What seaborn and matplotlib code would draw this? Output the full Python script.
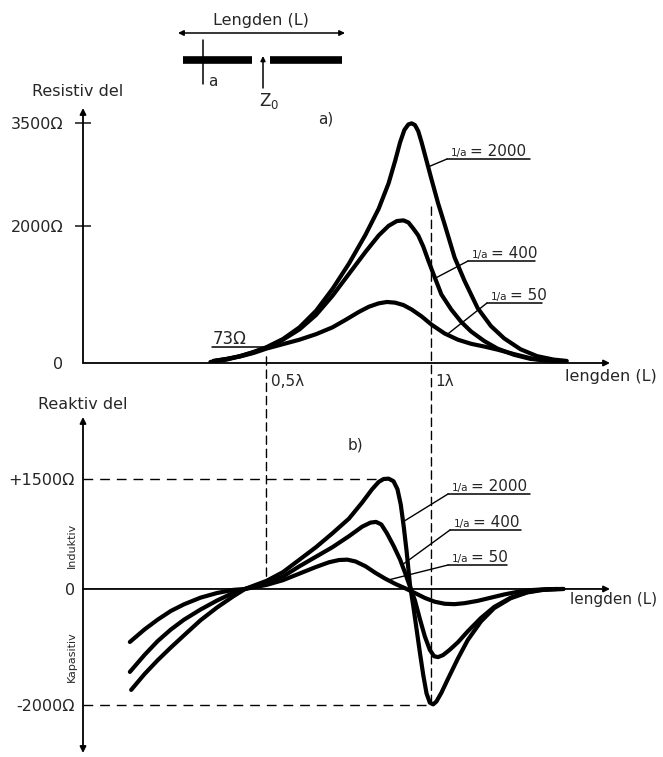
import numpy as np
import pandas as pd
import seaborn as sns
import matplotlib.pyplot as plt
from matplotlib.patches import ConnectionPatch
from matplotlib.transforms import ScaledTranslation

# Resistive part (L in wavelengths, R in ohm)
res_L_2000 = [0.33, 0.38, 0.42, 0.46, 0.50, 0.55, 0.60, 0.65, 0.70, 0.75, 0.80, 0.84,
              0.87, 0.89, 0.905, 0.918, 0.93, 0.94, 0.95, 0.96, 0.97, 0.985, 1.0, 1.02,
              1.04, 1.07, 1.10, 1.14, 1.18, 1.22, 1.27, 1.32, 1.37, 1.41]
res_R_2000 = [15, 50, 100, 160, 230, 350, 520, 760, 1080, 1450, 1870, 2250,
              2620, 2950, 3220, 3400, 3480, 3495, 3470, 3380, 3220, 2950, 2680, 2330,
              2020, 1540, 1200, 800, 540, 360, 200, 100, 50, 30]
res_L_400 = [0.34, 0.38, 0.42, 0.46, 0.50, 0.55, 0.60, 0.65, 0.70, 0.75, 0.80, 0.84,
             0.87, 0.895, 0.915, 0.93, 0.945, 0.96, 0.975, 0.99, 1.005, 1.03, 1.06,
             1.09, 1.12, 1.16, 1.20, 1.25, 1.30, 1.35, 1.39]
res_R_400 = [30, 60, 100, 155, 225, 340, 490, 700, 980, 1300, 1620, 1860,
             2000, 2070, 2080, 2050, 1960, 1860, 1700, 1500, 1310, 1000, 780,
             600, 460, 320, 210, 120, 60, 35, 30]
res_L_50 = [0.34, 0.38, 0.42, 0.46, 0.50, 0.55, 0.60, 0.65, 0.70, 0.74, 0.78, 0.81,
            0.84, 0.865, 0.89, 0.915, 0.94, 0.97, 1.0, 1.04, 1.08, 1.12, 1.16, 1.20,
            1.25, 1.30, 1.34, 1.375]
res_R_50 = [30, 60, 95, 145, 210, 275, 340, 420, 520, 630, 745, 820,
            870, 890, 880, 845, 780, 680, 560, 430, 340, 280, 240, 195,
            130, 70, 40, 30]

# Reactive part (ohm)
rea_L_2000 = [0.09, 0.13, 0.17, 0.21, 0.25, 0.30, 0.35, 0.40, 0.435, 0.47, 0.50, 0.55,
              0.60, 0.65, 0.70, 0.75, 0.79, 0.82, 0.84, 0.855, 0.87, 0.885, 0.897, 0.907,
              0.916, 0.925, 0.935, 0.945, 0.955, 0.965, 0.975, 0.985, 0.995, 1.005, 1.015,
              1.03, 1.05, 1.08, 1.11, 1.15, 1.19, 1.24, 1.29, 1.34, 1.40]
rea_X_2000 = [-1740, -1470, -1230, -1010, -800, -540, -320, -125, 0, 60, 110, 230,
              400, 570, 760, 960, 1180, 1360, 1460, 1500, 1505, 1470, 1360, 1150,
              850, 500, 50, -300, -700, -1100, -1480, -1800, -1960, -1990, -1940,
              -1790, -1550, -1200, -880, -560, -330, -160, -60, -15, 0]
rea_L_400 = [0.086, 0.13, 0.17, 0.21, 0.25, 0.30, 0.35, 0.40, 0.435, 0.47, 0.50, 0.55,
             0.60, 0.65, 0.70, 0.75, 0.79, 0.815, 0.832, 0.848, 0.865, 0.885, 0.905, 0.92,
             0.935, 0.95, 0.965, 0.98, 0.995, 1.008, 1.02, 1.035, 1.055, 1.08, 1.11,
             1.15, 1.19, 1.24, 1.29, 1.33, 1.38]
rea_X_400 = [-1430, -1140, -900, -700, -530, -355, -200, -65, 0, 45, 70, 170,
             310, 440, 570, 720, 850, 905, 915, 880, 760, 590, 400, 220,
             30, -200, -520, -820, -1050, -1160, -1175, -1140, -1050, -920, -730,
             -500, -310, -150, -55, -15, 0]
rea_L_50 = [0.086, 0.13, 0.17, 0.21, 0.25, 0.30, 0.35, 0.40, 0.435, 0.47, 0.50, 0.55,
            0.60, 0.65, 0.69, 0.72, 0.745, 0.77, 0.80, 0.83, 0.86, 0.89, 0.92, 0.95,
            0.98, 1.01, 1.04, 1.07, 1.10, 1.14, 1.18, 1.22, 1.26, 1.30, 1.35, 1.40]
rea_X_50 = [-914, -700, -530, -380, -265, -150, -70, -15, 0, 30, 55, 120,
            210, 300, 365, 395, 400, 375, 310, 220, 140, 70, 10, -70,
            -155, -220, -255, -262, -245, -205, -150, -95, -50, -20, -3, 0]

ratios = ['2000', '400', '50']

res_df = pd.concat([
    pd.DataFrame({'L': res_L_2000, 'R': res_R_2000, 'ratio': '2000'}),
    pd.DataFrame({'L': res_L_400, 'R': res_R_400, 'ratio': '400'}),
    pd.DataFrame({'L': res_L_50, 'R': res_R_50, 'ratio': '50'}),
])
rea_df = pd.concat([
    pd.DataFrame({'L': rea_L_2000, 'X': rea_X_2000, 'ratio': '2000'}),
    pd.DataFrame({'L': rea_L_400, 'X': rea_X_400, 'ratio': '400'}),
    pd.DataFrame({'L': rea_L_50, 'X': rea_X_50, 'ratio': '50'}),
])

sns.set_style('white')
plt.rcParams['font.family'] = ['DejaVu Sans']

W, H = 663, 757
fig = plt.figure(figsize=(W / 100, H / 100), dpi=100)


def box(l, t, r, b):
    return [l / W, 1 - b / H, (r - l) / W, (b - t) / H]


XL = (-0.056, 1.541)
black = {r: 'black' for r in ratios}
line_kw = dict(lw=3, solid_joinstyle='round', solid_capstyle='round')
arrow_kw = dict(arrowstyle='-|>', lw=1.3, color='k', mutation_scale=9, shrinkA=0, shrinkB=0)

# ---- a) resistive part
ax1 = fig.add_axes(box(83, 108, 610, 363))
sns.lineplot(data=res_df, x='L', y='R', hue='ratio', palette=black, estimator=None,
             legend=False, ax=ax1, **line_kw)
ax1.set_xlim(*XL)
ax1.set_ylim(0, 3719)
for s in ax1.spines.values():
    s.set_visible(False)
ax1.set_xlabel('')
ax1.set_ylabel('')
ax1.set_yticks([0, 2000, 3500], ['0', '2000Ω', '3500Ω'])
ax1.tick_params(axis='y', direction='inout', length=12, width=1.2, pad=8, labelsize=11.5, left=True)
ax1.yaxis.get_major_ticks()[0].tick1line.set_visible(False)
ax1.set_xticks([0.5, 1.0], ['0,5λ', '1λ'])
ax1.tick_params(axis='x', length=0, pad=8, labelsize=11)
shift = ScaledTranslation(3 / 72, 0, fig.dpi_scale_trans)
for t in ax1.get_xticklabels():
    t.set_ha('left')
    t.set_transform(t.get_transform() + shift)
ax1.annotate('', xy=(0, 1), xytext=(0, 0), xycoords='axes fraction', arrowprops=arrow_kw)
ax1.annotate('', xy=(1, 0), xytext=(0, 0), xycoords='axes fraction', arrowprops=arrow_kw)

# ---- b) reactive part (hand drawn axis: different scale above / below zero)
K_POS, K_NEG = 0.0733, 0.058


def fwd(y):
    y = np.asarray(y, dtype=float)
    return np.where(y >= 0, y * K_POS, y * K_NEG)


def inv(v):
    v = np.asarray(v, dtype=float)
    return np.where(v >= 0, v / K_POS, v / K_NEG)


ax2 = fig.add_axes(box(83, 417, 610, 753))
ax2.set_yscale('function', functions=(fwd, inv))
sns.lineplot(data=rea_df, x='L', y='X', hue='ratio', palette=black, estimator=None,
             legend=False, ax=ax2, **line_kw)
ax2.set_yscale('function', functions=(fwd, inv))
ax2.set_xlim(*XL)
ax2.set_ylim(-2828, 2346)
for s in ax2.spines.values():
    s.set_visible(False)
ax2.set_xlabel('')
ax2.set_ylabel('')
ax2.set_xticks([])
ax2.set_yticks([1500, 0, -2000], ['+1500Ω', '0', '-2000Ω'])
ax2.yaxis.set_minor_locator(plt.NullLocator())
ax2.tick_params(axis='y', length=0, pad=6, labelsize=11.5)
ax2.annotate('', xy=(0, 1), xytext=(0, 0), xycoords='axes fraction',
             arrowprops=dict(arrow_kw, arrowstyle='<|-|>'))
ax2.annotate('', xy=(1, 0), xytext=(0, 0), xycoords=ax2.get_yaxis_transform(), arrowprops=arrow_kw)

# dashed guide lines
dash = dict(color='k', lw=1.0, linestyle=(0, (7, 5)))
ax2.hlines(1500, XL[0], 0.862, **dash)
ax2.hlines(-2000, XL[0], 1.0, **dash)
for xa, ya, yb in [(0.5, 90, 95), (1.0, 2275, -2000)]:
    con = ConnectionPatch(xyA=(xa, ya), coordsA=ax1.transData, xyB=(xa, yb), coordsB=ax2.transData,
                          color='k', lw=1.0, linestyle=(0, (6, 3.5)))
    fig.add_artist(con)

# ---- overlay in pixel coordinates for the sketch and the labels
ov = fig.add_axes([0, 0, 1, 1])
ov.set_xlim(0, W)
ov.set_ylim(H, 0)
ov.axis('off')
ov.patch.set_visible(False)

# dipole sketch
ov.annotate('', xy=(345, 33), xytext=(178, 33),
            arrowprops=dict(arrowstyle='<|-|>', lw=1.1, color='k', mutation_scale=8, shrinkA=0, shrinkB=0))
ov.text(261, 28, 'Lengden (L)', ha='center', va='bottom', fontsize=11.5)
ov.plot([183, 252], [60, 60], color='k', lw=5.5, solid_capstyle='butt')
ov.plot([270, 342], [60, 60], color='k', lw=5.5, solid_capstyle='butt')
ov.plot([203, 203], [40, 84], color='k', lw=1.1)
ov.text(208, 86, 'a', fontsize=11, va='baseline')
ov.annotate('', xy=(263, 56), xytext=(263, 88),
            arrowprops=dict(arrowstyle='-|>', lw=1.1, color='k', mutation_scale=7, shrinkA=0, shrinkB=0))
ov.text(259, 106, r'$\mathregular{Z_0}$', fontsize=12, va='baseline')

ov.text(32, 96, 'Resistiv del', fontsize=11.5, va='baseline')
ov.text(318, 123, 'a)', fontsize=11, va='baseline')
ov.text(38, 409, 'Reaktiv del', fontsize=11.5, va='baseline')
ov.text(348, 450, 'b)', fontsize=11, va='baseline')
ov.text(565, 381, 'lengden (L)', fontsize=11.5, va='baseline')
ov.text(570, 604, 'lengden (L)', fontsize=11, va='baseline')
ov.text(72, 545, 'Induktiv', rotation=90, fontsize=8, ha='center', va='center')
ov.text(72, 657, 'Kapasitiv', rotation=90, fontsize=8, ha='center', va='center')

# 73 ohm mark
ov.text(213, 344, '73Ω', fontsize=12, va='baseline')
ov.plot([212, 265], [347, 347], color='k', lw=1.1)


def ratio_label(ax, L_arr, V_arr, at, x0, x1, y, value):
    ov.plot([x0, x1], [y, y], color='k', lw=1.1)
    ov.text(x0 + 4, y - 3, '1/a', fontsize=7.5, va='baseline')
    ov.text(x0 + 23, y - 3, '= ' + value, fontsize=11, va='baseline')
    ax.annotate('', xy=(at, np.interp(at, L_arr, V_arr)), xytext=(x0, y), textcoords=ov.transData,
                arrowprops=dict(arrowstyle='-', lw=1.0, color='k', shrinkA=0, shrinkB=0))


ratio_label(ax1, res_L_2000, res_R_2000, 0.99, 447, 530, 159, '2000')
ratio_label(ax1, res_L_400, res_R_400, 1.011, 468, 535, 261, '400')
ratio_label(ax1, res_L_50, res_R_50, 1.047, 487, 542, 303, '50')
ratio_label(ax2, rea_L_2000, rea_X_2000, 0.914, 448, 530, 494, '2000')
ratio_label(ax2, rea_L_400, rea_X_400, 0.911, 450, 521, 530, '400')
ratio_label(ax2, rea_L_50, rea_X_50, 0.868, 448, 507, 565, '50')

fig.savefig('out.png', dpi=100)
